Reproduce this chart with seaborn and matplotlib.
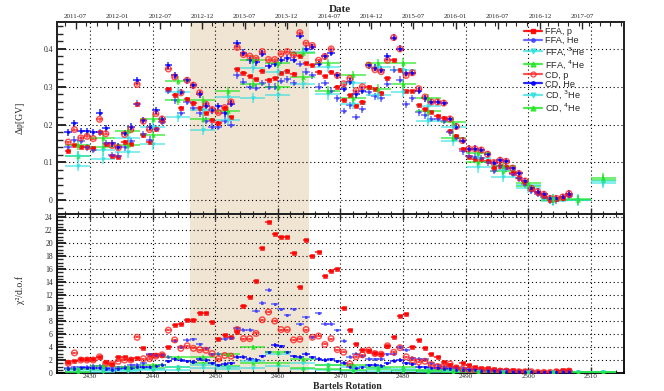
import numpy as np
import pandas as pd
import seaborn as sns
import matplotlib.pyplot as plt
from matplotlib.lines import Line2D
from matplotlib.ticker import MultipleLocator, AutoMinorLocator

#%% data
rotation = list(range(2426, 2507))
iso_bins = [2428, 2432, 2436, 2440, 2444, 2448, 2452, 2456, 2460, 2464, 2468,
            2472, 2476, 2480, 2484, 2488, 2492, 2496, 2500, 2504, 2508, 2512]

# delta phi [GV], one value per Bartels rotation
ffa_p = [0.130, 0.145, 0.140, 0.140, 0.138, 0.180, 0.148, 0.118, 0.115, 0.155,
         0.150, 0.255, 0.172, 0.154, 0.189, 0.210, 0.293, 0.279, 0.245, 0.269,
         0.258, 0.245, 0.230, 0.213, 0.205, 0.245, 0.220, 0.346, 0.337, 0.328,
         0.320, 0.342, 0.319, 0.322, 0.337, 0.342, 0.335, 0.380, 0.362, 0.357,
         0.340, 0.328, 0.340, 0.300, 0.264, 0.277, 0.250, 0.260, 0.300, 0.293,
         0.284, 0.322, 0.370, 0.345, 0.288, 0.288, 0.251, 0.240, 0.233, 0.224,
         0.218, 0.184, 0.170, 0.136, 0.115, 0.110, 0.110, 0.105, 0.085, 0.090,
         0.088, 0.073, 0.060, 0.045, 0.030, 0.020, 0.012, 0.000, 0.003, 0.007,
         0.015]
ffa_he = [0.140, 0.160, 0.158, 0.140, 0.133, 0.180, 0.151, 0.120, 0.118, 0.140,
          0.157, 0.255, 0.175, 0.160, 0.189, 0.208, 0.290, 0.264, 0.231, 0.260,
          0.245, 0.230, 0.210, 0.195, 0.195, 0.210, 0.200, 0.330, 0.313, 0.300,
          0.298, 0.310, 0.300, 0.300, 0.315, 0.320, 0.310, 0.360, 0.340, 0.330,
          0.300, 0.310, 0.290, 0.270, 0.236, 0.251, 0.220, 0.240, 0.285, 0.275,
          0.270, 0.308, 0.345, 0.319, 0.254, 0.270, 0.233, 0.225, 0.215, 0.215,
          0.210, 0.180, 0.165, 0.130, 0.118, 0.115, 0.112, 0.100, 0.078, 0.090,
          0.085, 0.070, 0.058, 0.042, 0.025, 0.018, 0.010, 0.000, 0.000, 0.005,
          0.012]
cd_p = [0.154, 0.187, 0.165, 0.169, 0.163, 0.214, 0.176, 0.145, 0.139, 0.174,
        0.187, 0.306, 0.209, 0.187, 0.229, 0.215, 0.347, 0.326, 0.284, 0.317,
        0.304, 0.284, 0.254, 0.240, 0.232, 0.245, 0.260, 0.404, 0.385, 0.381,
        0.375, 0.393, 0.372, 0.372, 0.387, 0.393, 0.384, 0.443, 0.415, 0.409,
        0.370, 0.380, 0.400, 0.330, 0.308, 0.322, 0.290, 0.300, 0.357, 0.345,
        0.340, 0.370, 0.430, 0.400, 0.330, 0.337, 0.295, 0.273, 0.260, 0.260,
        0.257, 0.215, 0.195, 0.158, 0.136, 0.136, 0.133, 0.122, 0.100, 0.106,
        0.103, 0.085, 0.071, 0.051, 0.032, 0.023, 0.016, 0.005, 0.005, 0.009,
        0.018]
cd_he = [0.180, 0.204, 0.183, 0.182, 0.180, 0.231, 0.190, 0.151, 0.142, 0.178,
         0.195, 0.317, 0.211, 0.194, 0.238, 0.215, 0.357, 0.330, 0.286, 0.317,
         0.304, 0.280, 0.250, 0.238, 0.248, 0.230, 0.255, 0.415, 0.390, 0.370,
         0.365, 0.387, 0.355, 0.360, 0.370, 0.375, 0.372, 0.434, 0.400, 0.405,
         0.360, 0.380, 0.390, 0.330, 0.295, 0.313, 0.280, 0.290, 0.357, 0.350,
         0.345, 0.380, 0.430, 0.400, 0.337, 0.337, 0.290, 0.270, 0.260, 0.260,
         0.257, 0.215, 0.195, 0.158, 0.136, 0.136, 0.133, 0.122, 0.098, 0.106,
         0.103, 0.085, 0.071, 0.051, 0.032, 0.023, 0.016, 0.005, 0.005, 0.009,
         0.018]

# helium isotopes, 4-rotation bins
ffa_3he = [0.092, 0.110, 0.127, 0.148, 0.220, 0.186, 0.213, 0.270, 0.277, 0.308, 0.280,
           0.255, 0.279, 0.286, 0.210, 0.158, 0.087, 0.062, 0.033, -0.002, 0.000, 0.047]
ffa_4he = [0.118, 0.140, 0.147, 0.172, 0.264, 0.215, 0.235, 0.308, 0.300, 0.325, 0.290,
           0.270, 0.295, 0.306, 0.235, 0.166, 0.100, 0.078, 0.038, 0.000, 0.000, 0.055]
cd_3he = [0.116, 0.132, 0.165, 0.195, 0.286, 0.238, 0.273, 0.350, 0.340, 0.392, 0.353,
          0.310, 0.351, 0.345, 0.250, 0.193, 0.113, 0.080, 0.040, 0.003, 0.002, 0.050]
cd_4he = [0.145, 0.165, 0.183, 0.216, 0.316, 0.264, 0.288, 0.372, 0.362, 0.390, 0.362,
          0.330, 0.362, 0.363, 0.270, 0.207, 0.124, 0.090, 0.045, 0.005, 0.003, 0.060]

# chi2 / d.o.f
ffa_p_chi = [1.7, 1.9, 2.1, 2.1, 2.2, 2.4, 1.7, 1.4, 2.4, 2.5,
             2.2, 2.3, 3.8, 2.7, 2.7, 2.8, 4.0, 7.4, 7.6, 8.1,
             8.2, 9.2, 9.2, 7.8, 5.3, 5.9, 5.5, 6.3, 10.3, 11.7,
             14.1, 19.3, 23.2, 21.4, 20.9, 20.9, 18.5, 13.3, 20.5, 18.0,
             18.6, 15.0, 15.7, 16.0, 10.0, 6.7, 4.5, 3.5, 3.4, 3.1,
             2.9, 4.2, 5.6, 8.8, 9.1, 4.0, 5.1, 3.9, 2.9, 2.4,
             1.7, 1.2, 0.9, 1.5, 1.2, 0.9, 0.8, 0.7, 0.6, 0.5,
             0.5, 0.4, 0.3, 0.3, 0.2, 0.2, 0.2, 0.2, 0.3, 0.4,
             0.5]
ffa_he_chi = [0.8, 0.9, 0.9, 1.0, 1.1, 1.1, 0.7, 0.8, 0.9, 1.0,
              1.2, 1.3, 1.5, 2.9, 2.8, 2.8, 2.5, 5.0, 4.0, 5.1,
              5.2, 4.4, 3.8, 2.9, 3.0, 5.3, 5.4, 6.9, 6.7, 6.7,
              9.6, 10.8, 12.8, 10.6, 9.8, 8.9, 9.8, 7.5, 8.6, 5.5,
              9.2, 7.6, 7.6, 6.6, 5.0, 2.5, 3.0, 2.6, 2.2, 2.1,
              2.2, 2.9, 3.0, 4.0, 3.6, 2.3, 2.2, 2.1, 1.5, 1.2,
              1.0, 0.9, 0.8, 0.7, 0.6, 0.6, 0.5, 0.5, 0.4, 0.4,
              0.4, 0.3, 0.3, 0.3, 0.3, 0.2, 0.2, 0.2, 0.2, 0.3,
              0.3]
cd_p_chi = [1.5, 3.1, 2.0, 2.0, 2.0, 2.5, 1.5, 1.4, 1.8, 2.0,
            2.0, 5.5, 2.2, 2.2, 2.6, 2.8, 6.6, 5.1, 3.8, 4.2,
            3.8, 3.6, 3.5, 3.0, 2.2, 2.7, 2.6, 6.7, 5.3, 5.3,
            6.1, 8.2, 9.4, 8.0, 6.7, 6.7, 5.1, 5.2, 6.7, 5.5,
            5.7, 4.4, 5.3, 3.6, 3.2, 1.4, 2.5, 2.8, 3.5, 3.0,
            2.9, 4.2, 3.2, 3.9, 2.5, 2.0, 1.7, 1.8, 1.3, 1.0,
            1.1, 1.4, 0.8, 0.6, 0.5, 0.4, 0.4, 0.4, 0.3, 0.3,
            0.3, 0.2, 0.2, 0.2, 0.2, 0.1, 0.1, 0.1, 0.2, 0.2,
            0.3]
cd_he_chi = [0.6, 0.6, 0.7, 0.7, 0.8, 0.8, 0.6, 0.5, 0.6, 0.8,
             0.8, 1.0, 1.0, 1.0, 1.1, 1.3, 1.8, 2.2, 2.0, 1.8,
             1.7, 2.2, 2.0, 1.5, 1.2, 1.4, 1.5, 2.5, 2.5, 2.2,
             2.0, 2.6, 3.2, 4.3, 4.1, 3.2, 2.6, 2.5, 3.0, 2.4,
             2.2, 2.0, 2.1, 1.8, 1.6, 1.0, 0.8, 0.9, 1.2, 1.3,
             1.1, 1.5, 1.9, 2.0, 1.5, 1.4, 1.0, 0.9, 0.8, 0.7,
             0.6, 0.6, 0.5, 0.4, 0.4, 0.4, 0.3, 0.3, 0.3, 0.2,
             0.2, 0.2, 0.2, 0.1, 0.1, 0.1, 0.1, 0.1, 0.1, 0.2,
             0.2]
ffa_3he_chi = [0.2, 0.2, 0.3, 0.4, 0.5, 0.8, 0.6, 0.7, 1.1, 0.6, 0.4,
               0.3, 0.3, 0.3, 0.2, 0.1, 0.1, 0.1, 0.1, 0.1, 0.1, 0.1]
ffa_4he_chi = [0.2, 0.5, 0.6, 0.8, 1.0, 1.5, 1.1, 1.5, 1.5, 0.7, 0.6,
               0.5, 0.6, 0.4, 0.3, 0.2, 0.2, 0.2, 0.2, 0.2, 0.2, 0.2]
cd_3he_chi = [0.4, 0.4, 0.5, 0.6, 0.9, 1.3, 1.0, 1.9, 2.9, 1.5, 1.2,
              0.9, 0.7, 0.6, 0.4, 0.3, 0.2, 0.2, 0.1, 0.1, 0.1, 0.1]
cd_4he_chi = [0.6, 1.1, 0.9, 1.3, 2.4, 2.5, 2.9, 4.0, 3.2, 2.2, 1.3,
              1.2, 0.9, 0.9, 0.5, 0.4, 0.3, 0.2, 0.2, 0.2, 0.2, 0.2]

date_pos = [2427.7, 2434.4, 2441.2, 2447.9, 2454.7, 2461.4, 2468.2,
            2474.9, 2481.6, 2488.4, 2495.1, 2501.9, 2508.6]
date_labels = ['2011-07', '2012-01', '2012-07', '2012-12', '2013-07', '2013-12', '2014-07',
               '2014-12', '2015-07', '2016-01', '2016-07', '2016-12', '2017-07']

#%% style
sns.set_style('ticks')
plt.rcParams['font.family'] = ['Liberation Serif', 'DejaVu Serif']

x_rot = np.array(rotation) + 0.5
x_iso = np.array(iso_bins)

# label, x, upper values, chi2 values, colour, marker, filled, xerr, yerr, chi err, size, alpha
series = [
    ('FFA, p', x_rot, ffa_p, ffa_p_chi, '#ff0000', 's', True, 0.5, 0.004, 0.15, 9, 0.9),
    ('FFA, He', x_rot, ffa_he, ffa_he_chi, '#3a3aff', 'o', True, 0.6, 0.009, 0.25, 3, 0.75),
    ('FFA, $^{3}$He', x_iso, ffa_3he, ffa_3he_chi, '#30e0e0', 'v', True, 2.0, 0.014, 0.25, 7, 0.75),
    ('FFA, $^{4}$He', x_iso, ffa_4he, ffa_4he_chi, '#1ee61e', '^', True, 2.0, 0.012, 0.25, 7, 0.8),
    ('CD, p', x_rot, cd_p, cd_p_chi, '#ff1a1a', 'o', False, 0.5, 0.004, 0.15, 16, 0.75),
    ('CD, He', x_rot, cd_he, cd_he_chi, '#0000ff', 'o', True, 0.6, 0.009, 0.25, 3, 0.85),
    ('CD, $^{3}$He', x_iso, cd_3he, cd_3he_chi, '#30e0e0', 'v', True, 2.0, 0.014, 0.25, 7, 0.75),
    ('CD, $^{4}$He', x_iso, cd_4he, cd_4he_chi, '#1ee61e', '^', True, 2.0, 0.012, 0.25, 7, 0.8),
]

fig = plt.figure(figsize=(6.64, 3.91), dpi=100)
ax1 = fig.add_axes([0.0858, 0.4527, 0.854, 0.491])
ax2 = fig.add_axes([0.0858, 0.046, 0.854, 0.4067])


def draw(ax, x, y, xerr, yerr, color, marker, size, filled, alpha):
    ax.errorbar(x, y, xerr=xerr, yerr=yerr, fmt='none', ecolor=color,
                elinewidth=1.1, capsize=0, alpha=alpha, zorder=3)
    if filled:
        sns.scatterplot(x=x, y=y, ax=ax, marker=marker, s=size, color=color,
                        edgecolor=color, linewidth=0.4, alpha=alpha, zorder=4, legend=False)
    else:
        sns.scatterplot(x=x, y=y, ax=ax, marker=marker, s=size, color=color,
                        facecolor='none', edgecolor=color, linewidth=1.1,
                        alpha=alpha, zorder=4, legend=False)


for lab, x, up, chi, col, mk, fill, xe, ye, ce, sz, al in series:
    draw(ax1, x, up, xe, ye, col, mk, sz, fill, al)
    draw(ax2, x, chi, xe, ce, col, mk, sz, fill, al)

for ax in (ax1, ax2):
    ax.axvspan(2446, 2465, color='#f0e4d2', lw=0, zorder=0)
    ax.set_xlim(2424.7, 2515.3)
    ax.set_axisbelow(True)
    ax.grid(True, which='major', color='black', ls=(0, (1, 2.5)), lw=0.8)
    ax.xaxis.set_major_locator(MultipleLocator(10))
    ax.xaxis.set_minor_locator(MultipleLocator(2))
    ax.tick_params(axis='x', which='major', direction='in', length=4, width=1.0, labelsize=5, pad=1)
    ax.tick_params(axis='x', which='minor', direction='in', length=2.5, width=0.8)
    ax.tick_params(axis='y', which='major', direction='in', length=6.5, width=1.4, labelsize=5.5, pad=3)
    ax.tick_params(axis='y', which='minor', direction='in', length=4, width=1.0)
    ax.set_xlabel('')
    ax.set_ylabel('')
    for sp in ax.spines.values():
        sp.set_linewidth(1.3)
        sp.set_color('black')

ax1.set_ylim(-0.036, 0.471)
ax1.yaxis.set_major_locator(MultipleLocator(0.1))
ax1.yaxis.set_minor_locator(MultipleLocator(0.02))
ax1.set_yticks([0, 0.1, 0.2, 0.3, 0.4])
ax1.set_yticklabels(['0', '0.1', '0.2', '0.3', '0.4'])
ax1.tick_params(axis='x', which='both', bottom=True, top=False, labelbottom=False)

ax2.set_ylim(0, 24.5)
ax2.yaxis.set_major_locator(MultipleLocator(2))
ax2.yaxis.set_minor_locator(MultipleLocator(0.5))
ax2.tick_params(axis='x', which='both', bottom=True, top=True, labelbottom=True)

# date axis on top
ax_top = ax1.twiny()
ax_top.set_xlim(ax1.get_xlim())
ax_top.set_xticks(date_pos)
ax_top.set_xticklabels(date_labels)
ax_top.xaxis.set_minor_locator(AutoMinorLocator(4))
ax_top.tick_params(axis='x', which='major', direction='in', length=5, width=1.0, labelsize=5, pad=2)
ax_top.tick_params(axis='x', which='minor', direction='in', length=3, width=0.8)
for sp in ax_top.spines.values():
    sp.set_linewidth(1.3)

# axis titles
fig.text(340 / 664, 1 - 9 / 391, 'Date', ha='center', va='center', fontsize=8, fontweight='bold')
fig.text(347 / 664, 1 - 386.5 / 391, 'Bartels Rotation', ha='center', va='center', fontsize=7, fontweight='bold')
fig.text(20 / 664, 1 - 118 / 391, 'Δφ[GV]', ha='center', va='center', rotation=90, fontsize=7)
fig.text(20 / 664, 1 - 290 / 391, 'χ²/d.o.f', ha='center', va='center', rotation=90, fontsize=7)

# legend
handles = []
for lab, x, up, chi, col, mk, fill, xe, ye, ce, sz, al in series:
    handles.append(Line2D([0], [0], color=col, lw=1.6, alpha=al, marker=mk,
                          ms=3.5 if mk != 'o' or not fill else 2.5,
                          mfc=col if fill else 'none', mec=col))
fig.legend(handles, [s[0] for s in series], loc='upper left',
           bbox_to_anchor=(524 / 664, 1 - 27 / 391), frameon=False,
           prop={'family': 'Liberation Sans', 'size': 6.6},
           handlelength=2.0, handletextpad=0.3, labelspacing=0.0,
           borderaxespad=0, borderpad=0)

fig.savefig('out.png', dpi=100)
